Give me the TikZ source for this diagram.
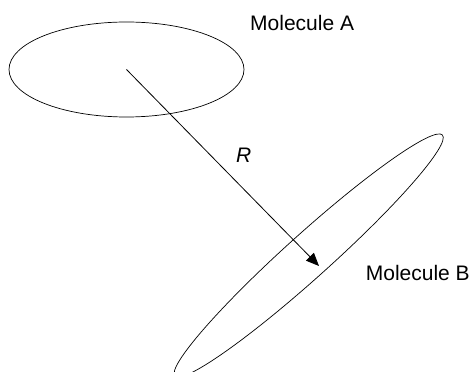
\documentclass[tikz,border=0pt]{standalone}
\usepackage{fontspec}
\setmainfont{Liberation Sans}
\usetikzlibrary{arrows.meta,shapes.geometric}
\tikzset{mol/.style={draw,ellipse,inner sep=0pt,line width=0.7pt},lbl/.style={font=\fontsize{21}{24}\selectfont,inner sep=0pt,anchor=base west},vec/.style={-{Triangle[length=13pt,width=11pt]},line width=0.8pt}}

\begin{document}
\begin{tikzpicture}[x=1pt,y=1pt]
\useasboundingbox (0,0) rectangle (472,372);
\clip (0,0) rectangle (472,372);
\node[mol,minimum width=235pt,minimum height=95pt] (molA) at (126.5,302.5) {};
\node[mol,rotate=42,minimum width=360pt,minimum height=44pt] (molB) at (308.7,116.5) {};
\coordinate (tipB) at (319,106);
\node[lbl] (labA) at (250,341.3) {Molecule A};
\node[lbl] (labB) at (365.7,91) {Molecule B};
\node[lbl] (labR) at (236,209.3) {\textit{R}};
\draw[vec] (molA.center)--(tipB);
\end{tikzpicture}
\end{document}
